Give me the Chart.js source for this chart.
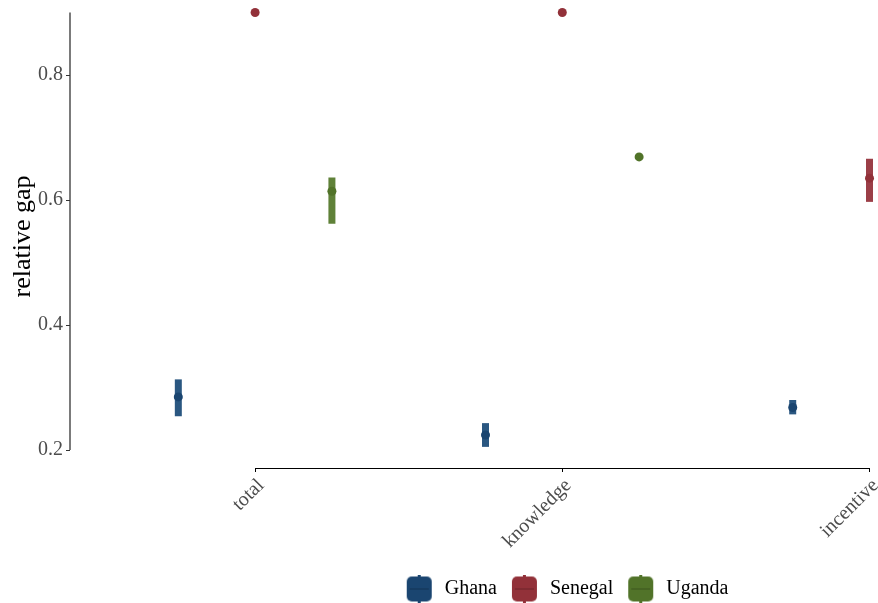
<!DOCTYPE html>
<html>
<head>
<meta charset="utf-8">
<script src="https://cdn.jsdelivr.net/npm/chart.js@4"></script>
<style>
  html, body { margin: 0; padding: 0; background: #fff; }
</style>
</head>
<body>
<canvas id="myChart" width="878" height="603"></canvas>
<script>
// data
const categories = ['total', 'knowledge', 'incentive'];
const countries = ['Ghana', 'Senegal', 'Uganda'];
const ghanaGap = [0.285, 0.224, 0.268];
const ghanaLow = [0.254, 0.205, 0.257];
const ghanaHigh = [0.313, 0.243, 0.280];
const senegalGap = [0.9, 0.9, 0.635];
const senegalLow = [null, null, 0.597];
const senegalHigh = [null, null, 0.666];
const ugandaGap = [0.614, 0.669, null];
const ugandaLow = [0.562, null, null];
const ugandaHigh = [0.636, null, null];
const yTicks = [0.2, 0.4, 0.6, 0.8];

const colors = ['#1a4570', '#923139', '#517329'];
const barColors = ['rgba(31,78,122,0.95)', 'rgba(150,52,61,0.95)', 'rgba(86,122,45,0.95)'];
const dodge = [-0.25, 0, 0.25];

function makePoints(gap, low, high, k) {
    const pts = [];
    gap.forEach((v, i) => {
        if (v === null) return;
        pts.push({ x: i + 1 + dodge[k], y: v, low: low[i], high: high[i] });
    });
    return pts;
}

const series = [
    makePoints(ghanaGap, ghanaLow, ghanaHigh, 0),
    makePoints(senegalGap, senegalLow, senegalHigh, 1),
    makePoints(ugandaGap, ugandaLow, ugandaHigh, 2)
];

// legend key: rounded box like the ggplot pointrange key
function makeKey(color) {
    const c = document.createElement('canvas');
    c.width = 37; c.height = 29;
    const g = c.getContext('2d');
    g.fillStyle = color;
    g.beginPath();
    g.roundRect(9, 2, 25, 25, 5);
    g.fill();
    g.fillRect(20, 0, 3, 29);
    g.strokeStyle = 'rgba(0,0,0,0.25)';
    g.lineWidth = 1;
    g.beginPath();
    g.moveTo(12, 14.5); g.lineTo(31, 14.5);
    g.stroke();
    return c;
}
const keys = colors.map(makeKey);

const errorBars = {
    id: 'errorBars',
    beforeDatasetsDraw(chart) {
        const { ctx, scales: { x, y } } = chart;
        ctx.save();
        chart.data.datasets.forEach((ds, k) => {
            ctx.strokeStyle = barColors[k];
            ctx.lineWidth = 7;
            ds.data.forEach(p => {
                if (p.low == null || p.high == null) return;
                const px = x.getPixelForValue(p.x);
                ctx.beginPath();
                ctx.moveTo(px, y.getPixelForValue(p.low));
                ctx.lineTo(px, y.getPixelForValue(p.high));
                ctx.stroke();
            });
        });
        ctx.restore();
    }
};

// capped axis lines (y from 0.2 to 0.9, x from first to last category)
const axisLines = {
    id: 'axisLines',
    afterDraw(chart) {
        const { ctx, chartArea, scales: { x, y } } = chart;
        ctx.save();
        ctx.strokeStyle = '#333333';
        ctx.lineWidth = 1.3;
        ctx.beginPath();
        ctx.moveTo(chartArea.left, y.getPixelForValue(0.2));
        ctx.lineTo(chartArea.left, y.getPixelForValue(0.9));
        ctx.stroke();
        ctx.strokeStyle = '#000000';
        ctx.lineWidth = 1;
        ctx.beginPath();
        ctx.moveTo(x.getPixelForValue(1), chartArea.bottom + 0.5);
        ctx.lineTo(x.getPixelForValue(categories.length), chartArea.bottom + 0.5);
        ctx.stroke();
        ctx.restore();
    }
};

const legendPlace = {
    id: 'legendPlace',
    afterLayout(chart) {
        chart.legend.left = 391.7;
        chart.legend.top = 573;
    }
};

Chart.defaults.font.family = "'Liberation Serif', 'DejaVu Serif', serif";

const ctx = document.getElementById('myChart').getContext('2d');
const myChart = new Chart(ctx, {
    type: 'scatter',
    data: {
        datasets: countries.map((name, k) => ({
            label: name,
            data: series[k],
            backgroundColor: colors[k],
            borderColor: colors[k],
            pointRadius: 4.5,
            pointBorderWidth: 0,
            clip: false
        }))
    },
    options: {
        responsive: false,
        animation: false,
        layout: { padding: { top: 5, right: 3, left: 0, bottom: 0 } },
        plugins: {
            tooltip: { enabled: false },
            legend: {
                position: 'bottom',
                align: 'start',
                labels: {
                    usePointStyle: true,
                    pointStyleWidth: 37,
                    padding: 6,
                    color: '#000000',
                    font: { size: 20 },
                    generateLabels: chart => chart.data.datasets.map((ds, k) => ({
                        text: ds.label,
                        pointStyle: keys[k],
                        fillStyle: colors[k],
                        strokeStyle: colors[k],
                        lineWidth: 0,
                        datasetIndex: k
                    }))
                }
            }
        },
        scales: {
            x: {
                type: 'linear',
                min: 0.3974,
                max: 3.013,
                afterBuildTicks: axis => { axis.ticks = categories.map((c, i) => ({ value: i + 1 })); },
                afterFit: axis => {
                    const lg = axis.chart.legend ? axis.chart.legend.height : 0;
                    axis.height = axis.chart.height - 468 - lg;
                    axis.paddingLeft = 0;
                    axis.paddingRight = 0;
                },
                grid: { display: true, drawOnChartArea: false, drawTicks: true, tickLength: 4, color: '#000000' },
                border: { display: false },
                ticks: {
                    autoSkip: false,
                    minRotation: 45,
                    maxRotation: 45,
                    padding: 2,
                    labelOffset: 6,
                    color: '#4d4d4d',
                    font: { size: 20 },
                    callback: v => categories[v - 1]
                }
            },
            y: {
                min: 0.1712,
                max: 0.912,
                afterBuildTicks: axis => { axis.ticks = yTicks.map(v => ({ value: v })); },
                afterFit: axis => {
                    axis.width = 70;
                    axis.paddingTop = 0;
                    axis.paddingBottom = 0;
                },
                grid: { display: true, drawOnChartArea: false, drawTicks: true, tickLength: 4, color: '#333333' },
                border: { display: false },
                title: {
                    display: true,
                    text: 'relative gap',
                    color: '#000000',
                    font: { size: 26 },
                    padding: { top: 8, bottom: 0 }
                },
                ticks: {
                    padding: 3,
                    color: '#4d4d4d',
                    font: { size: 20 },
                    callback: v => v.toFixed(1)
                }
            }
        }
    },
    plugins: [errorBars, axisLines, legendPlace]
});
</script>
</body>
</html>
